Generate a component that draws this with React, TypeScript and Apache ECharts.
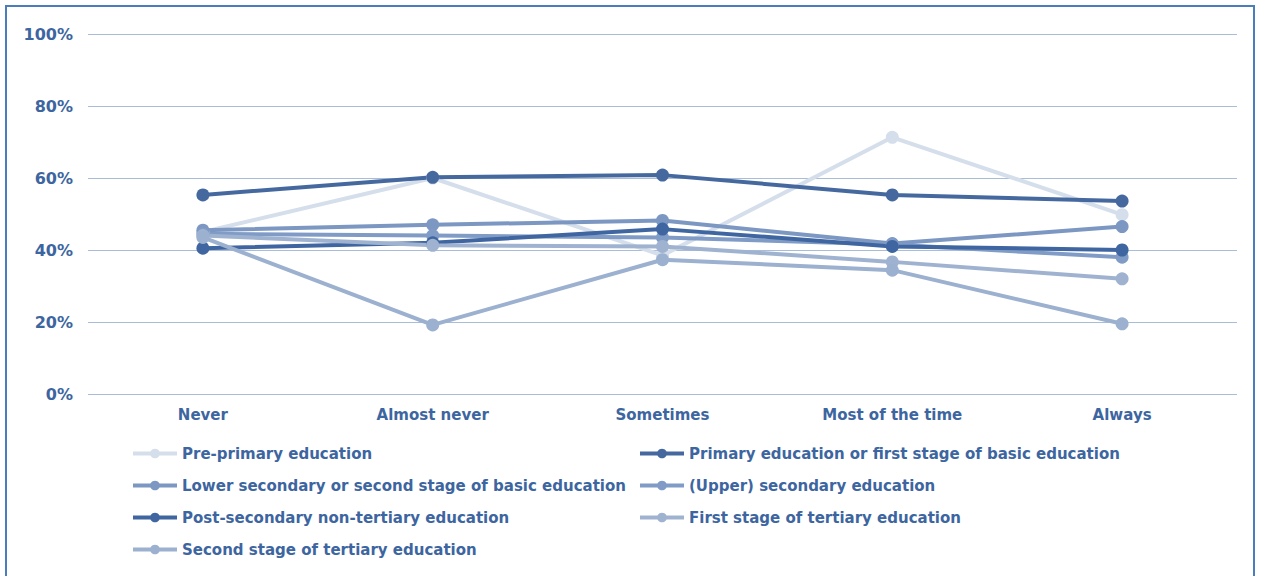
import React, { useEffect, useRef } from "react";
import * as echarts from "echarts";

const categories = ["Never", "Almost never", "Sometimes", "Most of the time", "Always"];
const seriesNames = [
  "Pre-primary education",
  "Primary education or first stage of basic education",
  "Lower secondary or second stage of basic education",
  "(Upper) secondary education",
  "Post-secondary non-tertiary education",
  "First stage of tertiary education",
  "Second stage of tertiary education",
];
const prePrimary = [45, 60, 38.5, 71.3, 49.8];
const primary = [55.3, 60.2, 60.8, 55.3, 53.6];
const lowerSecondary = [45.5, 47, 48.2, 41.8, 46.5];
const upperSecondary = [44.5, 44, 43.5, 41.5, 38];
const postSecondary = [40.5, 42, 45.8, 41, 40];
const firstTertiary = [44, 41.3, 41, 36.7, 32];
const secondTertiary = [43.5, 19.2, 37.3, 34.4, 19.5];
const allValues = [prePrimary, primary, lowerSecondary, upperSecondary, postSecondary, firstTertiary, secondTertiary];
const colors = ["#d5deeb", "#45699f", "#7b97c2", "#809cc6", "#3f66a0", "#9fb3d1", "#9cb0cf"];
const legendPos = [
  [131, 446], [638, 446],
  [131, 478], [638, 478],
  [131, 510], [638, 510],
  [131, 542],
];

export default function App() {
  const ref = useRef<HTMLDivElement>(null);
  useEffect(() => {
    if (!ref.current) return;
    const chart = echarts.init(ref.current, null, { renderer: "svg" });
    const font = "'DejaVu Sans', Verdana, sans-serif";
    chart.setOption({
      animation: false,
      grid: { left: 88, right: 25, top: 34, bottom: 182 },
      xAxis: {
        type: "category",
        data: categories,
        axisLine: { show: false },
        axisTick: { show: false },
        axisLabel: { color: "#3d65a0", fontWeight: "bold", fontSize: 15, fontFamily: font, margin: 13 },
      },
      yAxis: {
        type: "value",
        min: 0,
        max: 100,
        interval: 20,
        axisLine: { show: false },
        axisTick: { show: false },
        splitLine: { lineStyle: { color: "#a9bdd9", width: 1 } },
        axisLabel: { formatter: "{value}%", color: "#3d65a0", fontWeight: "bold", fontSize: 16, fontFamily: font, margin: 15 },
      },
      legend: seriesNames.map((n, i) => ({
        data: [n],
        left: legendPos[i][0],
        top: legendPos[i][1],
        padding: 0,
        itemWidth: 44,
        itemHeight: 12,
        itemGap: 5,
        lineStyle: { width: 4 },
        textStyle: { color: "#3d65a0", fontWeight: "bold", fontSize: 15, fontFamily: font },
      })),
      series: seriesNames.map((n, i) => ({
        name: n,
        type: "line",
        data: allValues[i],
        color: colors[i],
        symbol: "circle",
        symbolSize: 13,
        lineStyle: { width: 4, color: colors[i] },
        itemStyle: { color: colors[i] },
      })),
    });
    return () => chart.dispose();
  }, []);
  return (
    <div style={{ position: "fixed", left: 0, top: 0, width: 1262, height: 576, background: "#fff" }}>
      <div
        style={{
          position: "absolute",
          left: 5,
          top: 5,
          width: 1250,
          height: 600,
          border: "2px solid #4a7ebb",
          boxSizing: "border-box",
        }}
      />
      <div ref={ref} style={{ position: "absolute", left: 0, top: 0, width: 1262, height: 576 }} />
    </div>
  );
}
